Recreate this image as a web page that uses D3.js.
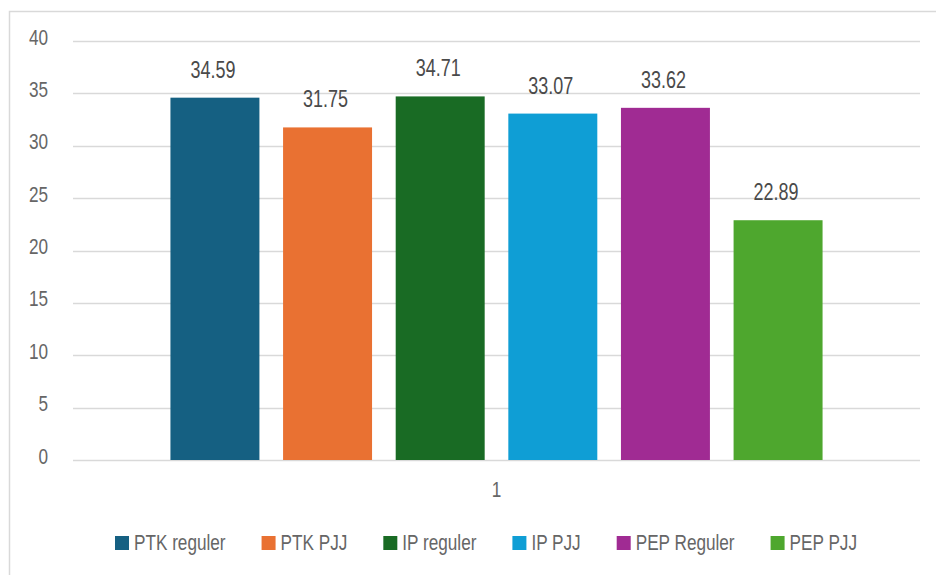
<!DOCTYPE html>
<html>
<head>
<meta charset="utf-8">
<script src="https://cdn.jsdelivr.net/npm/d3@7"></script>
<style>
  body { margin: 0; background: #fff; }
  text { font-family: "Liberation Sans Narrow", "Arial Narrow", "Liberation Sans", Arial, sans-serif; }
</style>
</head>
<body>
<div id="chart"></div>
<script>
// Data
const categories = ["1"];
const seriesNames = ["PTK reguler", "PTK PJJ", "IP reguler", "IP PJJ", "PEP Reguler", "PEP PJJ"];
const seriesValues = [34.59, 31.75, 34.71, 33.07, 33.62, 22.89];
const seriesColors = ["#156082", "#E97132", "#196B24", "#0F9ED5", "#A02B93", "#4EA72E"];
const yTicks = [0, 5, 10, 15, 20, 25, 30, 35, 40];

const W = 936, H = 575;
const plot = { left: 73, right: 920, top: 41, bottom: 460 };
const narrow = 0.78; // squeeze factor to imitate the condensed font

// squeeze a text selection horizontally
function condense(sel) {
    sel.each(function () {
        const len = this.getComputedTextLength();
        d3.select(this)
            .attr("textLength", len * narrow)
            .attr("lengthAdjust", "spacingAndGlyphs");
    });
}

const svg = d3.select("#chart")
    .append("svg")
    .attr("width", W)
    .attr("height", H);

// chart area border (only top/left visible in the crop)
svg.append("rect")
    .attr("x", 9.5)
    .attr("y", 11.5)
    .attr("width", W)
    .attr("height", H)
    .attr("fill", "none")
    .attr("stroke", "#d9d9d9")
    .attr("stroke-width", 1.5);

// Scales
const y = d3.scaleLinear()
    .domain([0, 40])
    .range([plot.bottom, plot.top]);

const x0 = d3.scaleBand()
    .domain(categories)
    .range([plot.left, plot.right])
    .paddingInner(0.13)
    .paddingOuter(0.13);

const x1 = d3.scaleBand()
    .domain(seriesNames)
    .range([0, x0.bandwidth()])
    .paddingInner(0.21)
    .paddingOuter(0);

// Gridlines
svg.append("g")
    .selectAll("line")
    .data(yTicks)
    .enter()
    .append("line")
    .attr("x1", plot.left)
    .attr("x2", plot.right)
    .attr("y1", d => Math.round(y(d)) + 0.5)
    .attr("y2", d => Math.round(y(d)) + 0.5)
    .attr("stroke", "#d9d9d9")
    .attr("stroke-width", 1.3);

// Y axis labels
const yAxis = svg.append("g")
    .attr("transform", "translate(48,0)")
    .call(d3.axisLeft(y).tickValues(yTicks).tickSize(0).tickPadding(0));
yAxis.select(".domain").remove();
yAxis.selectAll("text")
    .attr("fill", "#666666")
    .style("font-size", "22px")
    .attr("dy", 3)
    .call(condense);

// X axis label
const xAxis = svg.append("g")
    .attr("transform", `translate(0,${plot.bottom})`)
    .call(d3.axisBottom(x0).tickSize(0).tickPadding(0));
xAxis.select(".domain").remove();
xAxis.selectAll("text")
    .attr("fill", "#666666")
    .style("font-size", "22px")
    .attr("y", 37)
    .attr("dy", 0)
    .call(condense);

// Bars
const rows = seriesNames.map((name, i) => ({ name: name, value: seriesValues[i], color: seriesColors[i] }));

const group = svg.append("g")
    .attr("transform", `translate(${x0(categories[0])},0)`);

group.selectAll("rect")
    .data(rows)
    .enter()
    .append("rect")
    .attr("x", d => x1(d.name))
    .attr("y", d => y(d.value))
    .attr("width", x1.bandwidth())
    .attr("height", d => y(0) - y(d.value))
    .attr("fill", d => d.color);

// Value labels
group.selectAll("text.val")
    .data(rows)
    .enter()
    .append("text")
    .attr("class", "val")
    .attr("x", d => x1(d.name) + x1.bandwidth() / 2 - 2)
    .attr("y", d => y(d.value) - 20)
    .attr("text-anchor", "middle")
    .attr("fill", "#4a4a4a")
    .style("font-size", "23px")
    .text(d => d.value.toFixed(2))
    .call(condense);

// Legend
const legend = svg.append("g");
const items = legend.selectAll("g")
    .data(rows)
    .enter()
    .append("g");

items.append("rect")
    .attr("width", 14)
    .attr("height", 14)
    .attr("y", -14)
    .attr("fill", d => d.color);

items.append("text")
    .attr("x", 19)
    .attr("fill", "#666666")
    .style("font-size", "22px")
    .text(d => d.name)
    .call(condense);

const gap = 36;
let cursor = 0;
const offsets = [];
items.each(function () {
    offsets.push(cursor);
    const t = this.querySelector("text");
    cursor += 19 + (+t.getAttribute("textLength")) + gap;
});
const total = cursor - gap;
items.attr("transform", (d, i) => `translate(${offsets[i]},0)`);
legend.attr("transform", `translate(${486 - total / 2},550)`);
</script>
</body>
</html>
